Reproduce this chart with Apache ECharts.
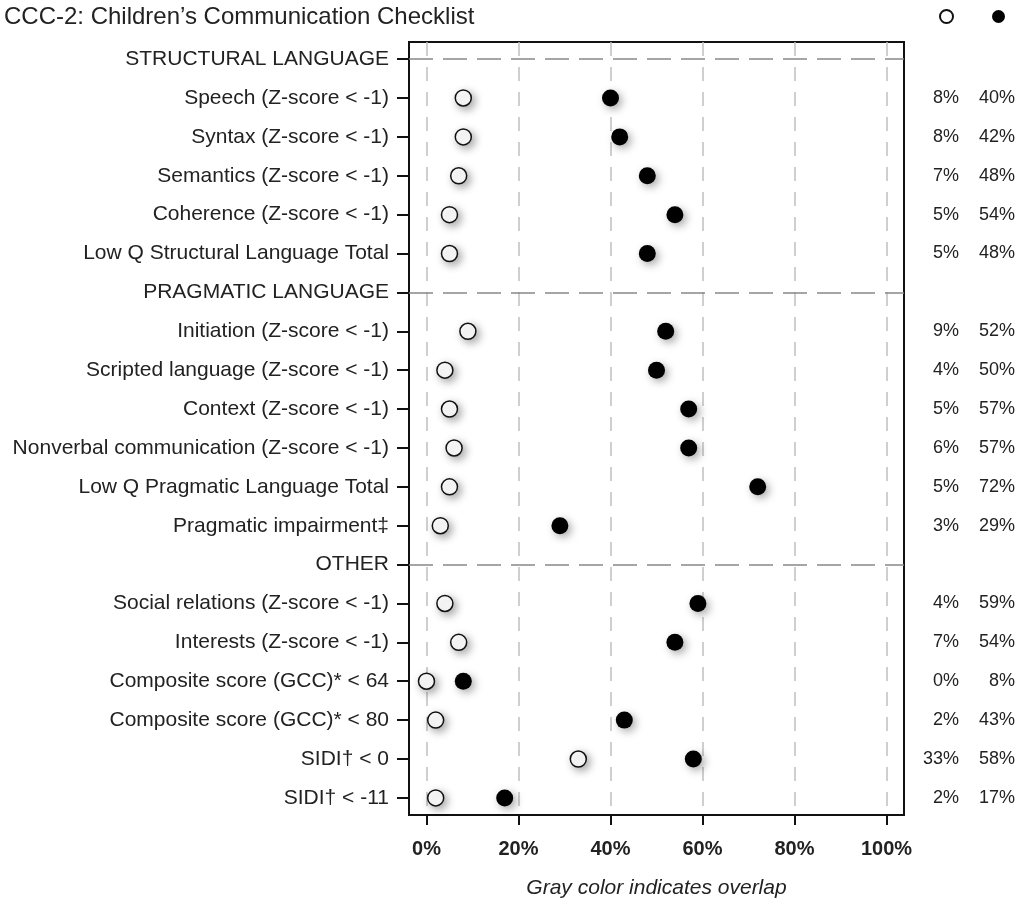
<!DOCTYPE html>
<html>
<head>
<meta charset="utf-8">
<script src="https://cdn.jsdelivr.net/npm/echarts@6/dist/echarts.min.js"></script>
<style>
html,body{margin:0;padding:0;background:#fff;}
#c{width:1023px;height:904px;}
</style>
</head>
<body>
<div id="c"></div>
<script>
const categories = [
  'STRUCTURAL LANGUAGE',
  'Speech (Z-score < -1)',
  'Syntax (Z-score < -1)',
  'Semantics (Z-score < -1)',
  'Coherence (Z-score < -1)',
  'Low Q Structural Language Total',
  'PRAGMATIC LANGUAGE',
  'Initiation (Z-score < -1)',
  'Scripted language (Z-score < -1)',
  'Context (Z-score < -1)',
  'Nonverbal communication (Z-score < -1)',
  'Low Q Pragmatic Language Total',
  'Pragmatic impairment\u2021',
  'OTHER',
  'Social relations (Z-score < -1)',
  'Interests (Z-score < -1)',
  'Composite score (GCC)* < 64',
  'Composite score (GCC)* < 80',
  'SIDI\u2020 < 0',
  'SIDI\u2020 < -11'
];
const headerRows = [0, 6, 13];
const openValues   = [null, 8, 8, 7, 5, 5, null, 9, 4, 5, 6, 5, 3, null, 4, 7, 0, 2, 33, 2];
const filledValues = [null, 40, 42, 48, 54, 48, null, 52, 50, 57, 57, 72, 29, null, 59, 54, 8, 43, 58, 17];
const xTicks = [0, 20, 40, 60, 80, 100];

const rowIdx = categories.map((_, i) => i);
const itemRows = rowIdx.filter(i => headerRows.indexOf(i) < 0);
const openData = [], filledData = [];
rowIdx.forEach(i => {
  if (openValues[i] != null) openData.push([openValues[i], i]);
  if (filledValues[i] != null) filledData.push([filledValues[i], i]);
});

const FONT = 'Liberation Sans, Arial, sans-serif';
const chart = echarts.init(document.getElementById('c'), null, {renderer: 'canvas'});
const shadow = {shadowBlur: 8, shadowColor: 'rgba(0,0,0,0.35)', shadowOffsetX: 3, shadowOffsetY: 3};

chart.setOption({
  animation: false,
  backgroundColor: '#fff',
  textStyle: {fontFamily: FONT},
  title: {
    text: 'CCC-2: Children\u2019s Communication Checklist',
    left: 4, top: 5, padding: 0,
    textStyle: {fontFamily: FONT, fontSize: 24, fontWeight: 'normal', color: '#222'}
  },
  legend: {
    data: ['Open', 'Filled'],
    left: 934, top: 4,
    itemWidth: 13, itemHeight: 13, itemGap: 38,
    formatter: () => '',
    itemStyle: {shadowBlur: 0, shadowOffsetX: 0, shadowOffsetY: 0}
  },
  grid: {
    left: 409, right: 119, top: 42, bottom: 89,
    show: true, borderColor: '#111', borderWidth: 2, backgroundColor: 'transparent'
  },
  xAxis: {
    type: 'value', min: -3.8, max: 103.8,
    name: 'Gray color indicates overlap',
    nameLocation: 'middle', nameGap: 63,
    nameTextStyle: {fontFamily: FONT, fontSize: 21, fontStyle: 'italic', color: '#222'},
    axisLine: {show: true, onZero: false, lineStyle: {color: '#111', width: 2}},
    axisTick: {show: true, length: 10, customValues: xTicks, lineStyle: {color: '#111', width: 2}},
    axisLabel: {customValues: xTicks, formatter: v => Math.round(v) + '%', margin: 24,
      fontFamily: FONT, fontSize: 20, fontWeight: 'bold', color: '#222'},
    splitLine: {show: false}
  },
  yAxis: [{
    type: 'value', min: -0.44, max: 19.44, inverse: true,
    axisLine: {show: true, onZero: false, lineStyle: {color: '#111', width: 2}},
    axisTick: {show: true, length: 12, customValues: rowIdx, lineStyle: {color: '#111', width: 2}},
    axisLabel: {customValues: rowIdx, formatter: v => categories[Math.round(v)] || '',
      margin: 20, hideOverlap: false, fontFamily: FONT, fontSize: 21, color: '#222'},
    splitLine: {show: false}
  }, {
    type: 'value', min: -0.44, max: 19.44, inverse: true, position: 'right',
    axisLine: {show: false, onZero: false}, axisTick: {show: false}, splitLine: {show: false},
    axisLabel: {
      customValues: itemRows, margin: 4, hideOverlap: false,
      formatter: v => {
        const i = Math.round(v);
        return '{a|' + openValues[i] + '%}{b|' + filledValues[i] + '%}';
      },
      rich: {
        a: {width: 51, align: 'right', fontFamily: FONT, fontSize: 18, color: '#222'},
        b: {width: 56, align: 'right', fontFamily: FONT, fontSize: 18, color: '#222'}
      }
    }
  }],
  series: [{
    name: 'grid', type: 'scatter', data: [], silent: true,
    markLine: {
      silent: true, symbol: 'none', label: {show: false}, animation: false,
      lineStyle: {color: '#c0c0c0', width: 1.5, type: [14, 11]},
      data: xTicks.map(v => ({xAxis: v}))
    }
  }, {
    name: 'headers', type: 'scatter', data: [], silent: true,
    markLine: {
      silent: true, symbol: 'none', label: {show: false}, animation: false,
      lineStyle: {color: '#888', width: 1.6, type: [24, 10]},
      data: headerRows.map(v => ({yAxis: v}))
    }
  }, {
    name: 'Open', type: 'scatter', data: openData, symbol: 'circle', symbolSize: 16, z: 5,
    itemStyle: Object.assign({color: '#fff', borderColor: '#111', borderWidth: 1.5, opacity: 1}, shadow)
  }, {
    name: 'Filled', type: 'scatter', data: filledData, symbol: 'circle', symbolSize: 17, z: 6,
    itemStyle: Object.assign({color: '#000', opacity: 1}, shadow)
  }]
});
</script>
</body>
</html>
